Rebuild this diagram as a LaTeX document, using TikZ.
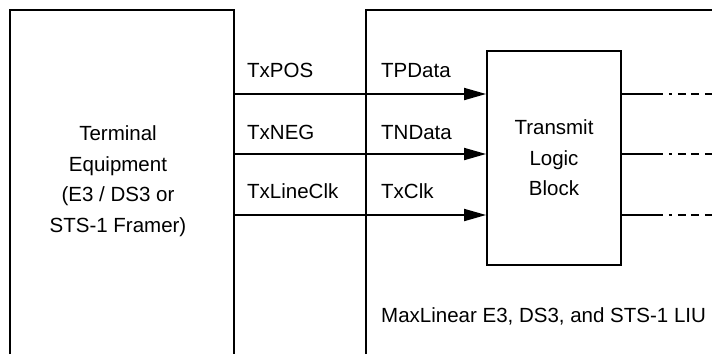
\documentclass[tikz,border=0pt]{standalone}
\usepackage{fontspec}
\setmainfont{Liberation Sans}
\usetikzlibrary{arrows.meta, positioning}

\tikzset{
  wire/.style={line width=1.8pt},
  sig/.style={wire, -{Triangle[length=22pt,width=12pt]}},
  lbl/.style={inner sep=0pt, anchor=base west, font=\fontsize{20.5}{30.5}\selectfont},
  dotted out/.style={wire, dash pattern=on 41pt off 6pt on 3pt off 6pt on 8pt off 5pt on 8pt off 6pt on 8pt off 60pt},
}

\begin{document}
\begin{tikzpicture}[x=1pt, y=-1pt]
  \useasboundingbox (0,0) rectangle (712,354);

  % terminal equipment, open at the bottom
  \draw[wire] (10,354) -- (10,10) -- (234,10) -- (234,354);
  \node[lbl, anchor=center, align=center] (term) at (118,181) {Terminal\\Equipment\\(E3 / DS3 or\\STS-1 Framer)};
  \coordinate (pos) at (234,94);
  \coordinate (neg) at (234,154);
  \coordinate (clk) at (234,215);

  % LIU
  \draw[wire] (366,354) -- (366,10) -- (712,10);
  \node[draw, wire, minimum width=134pt, minimum height=214pt, inner sep=0pt, align=center,
        font=\fontsize{20.5}{30.5}\selectfont] (tlb) at (554,158) {Transmit\\Logic\\Block};
  \node[lbl] (liu) at (381,322) {MaxLinear E3, DS3, and STS-1 LIU};
  \coordinate (edge) at (712,0);

  % signals
  \node[lbl] (txpos) at (247,77) {TxPOS};
  \node[lbl] (txneg) at (247,139) {TxNEG};
  \node[lbl] (txclk) at (247,198) {TxLineClk};
  \node[lbl] (tpdata) at (381,77) {TPData};
  \node[lbl] (tndata) at (381,139) {TNData};
  \node[lbl] (tclk) at (381,198) {TxClk};
  \draw[sig] (pos) -- (pos -| tlb.west);
  \draw[sig] (neg) -- (neg -| tlb.west);
  \draw[sig] (clk) -- (clk -| tlb.west);

  % outputs
  \draw[dotted out] (tlb.east |- pos) -- (edge |- pos);
  \draw[dotted out] (tlb.east |- neg) -- (edge |- neg);
  \draw[dotted out] (tlb.east |- clk) -- (edge |- clk);
\end{tikzpicture}
\end{document}
